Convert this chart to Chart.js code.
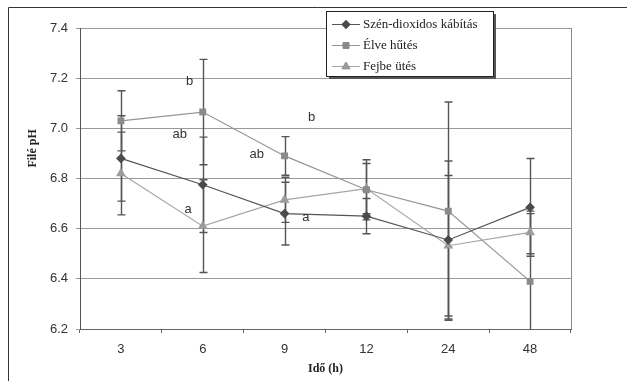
<!DOCTYPE html>
<html>
<head>
<meta charset="utf-8">
<script src="https://cdn.jsdelivr.net/npm/chart.js@4/dist/chart.umd.min.js"></script>
<style>
  html, body { margin: 0; padding: 0; background: #ffffff; }
  #wrap { width: 627px; height: 381px; position: relative; }
</style>
</head>
<body>
<div id="wrap"><canvas id="c" width="627" height="381"></canvas></div>
<script>
// Sampling times (h)
const hours = ['3', '6', '9', '12', '24', '48'];

// Fillet pH means and their error bar half-widths
const szenDioxidos = [6.88, 6.775, 6.66, 6.65, 6.555, 6.685];
const szenDioxidosErr = [0.17, 0.19, 0.125, 0.07, 0.315, 0.195];

const elveHutes = [7.03, 7.065, 6.89, 6.755, 6.67, 6.39];
const elveHutesErr = [0.12, 0.21, 0.077, 0.12, 0.435, 0.27];

const fejbeUtes = [6.82, 6.61, 6.715, 6.76, 6.532, 6.585];
const fejbeUtesErr = [0.165, 0.185, 0.09, 0.1, 0.28, 0.085];

// Y axis range and tick step
const yMin = 6.2, yMax = 7.4, yStep = 0.2;

// Significance letters, placed in data units (category index, pH)
const sigLetters = ['b', 'ab', 'a', 'ab', 'b', 'a'];
const sigAt = [[0.84, 7.186], [0.72, 6.974], [0.82, 6.675], [1.66, 6.894], [2.33, 7.042], [2.26, 6.643]];

const errorSets = [szenDioxidosErr, elveHutesErr, fejbeUtesErr];

const errorBars = {
  id: 'errorBars',
  beforeDatasetsDraw(chart) {
    const { ctx, chartArea, scales: { x, y } } = chart;
    ctx.save();
    ctx.beginPath();
    ctx.rect(chartArea.left, chartArea.top, chartArea.right - chartArea.left, chartArea.bottom - chartArea.top + 1);
    ctx.clip();
    ctx.strokeStyle = '#555555';
    ctx.lineWidth = 1.4;
    chart.data.datasets.forEach((ds, di) => {
      const errs = errorSets[di];
      ds.data.forEach((v, i) => {
        const px = Math.round(x.getPixelForValue(i)) + 0.5;
        const top = y.getPixelForValue(v + errs[i]);
        const bot = y.getPixelForValue(v - errs[i]);
        ctx.beginPath();
        ctx.moveTo(px, top); ctx.lineTo(px, bot);
        ctx.moveTo(px - 4, top); ctx.lineTo(px + 4, top);
        ctx.moveTo(px - 4, bot); ctx.lineTo(px + 4, bot);
        ctx.stroke();
      });
    });
    ctx.restore();
  }
};

const decorations = {
  id: 'decorations',
  afterDraw(chart) {
    const { ctx, chartArea, scales: { x, y } } = chart;
    ctx.save();
    // outer frame
    ctx.strokeStyle = '#333333';
    ctx.lineWidth = 1;
    ctx.beginPath();
    ctx.moveTo(8.5, 381); ctx.lineTo(8.5, 7.5); ctx.lineTo(627, 7.5);
    ctx.stroke();
    // plot area right border
    ctx.strokeStyle = '#888888';
    ctx.beginPath();
    ctx.moveTo(Math.round(chartArea.right) + 0.5, chartArea.top);
    ctx.lineTo(Math.round(chartArea.right) + 0.5, chartArea.bottom);
    ctx.stroke();

    // significance letters
    ctx.fillStyle = '#333333';
    ctx.font = '13px "Liberation Sans", Arial, sans-serif';
    ctx.textAlign = 'center';
    ctx.textBaseline = 'middle';
    sigLetters.forEach((t, i) => {
      ctx.fillText(t, x.getPixelForValue(sigAt[i][0]), y.getPixelForValue(sigAt[i][1]));
    });

    // axis titles
    ctx.fillStyle = '#222222';
    ctx.font = 'bold 12px "Liberation Serif", "Times New Roman", serif';
    ctx.fillText('Idő (h)', (chartArea.left + chartArea.right) / 2, 369);
    ctx.save();
    ctx.translate(33, y.getPixelForValue(6.92));
    ctx.rotate(-Math.PI / 2);
    ctx.fillText('Filé pH', 0, 0);
    ctx.restore();

    // legend box with shadow
    const bx = 326, by = 11, bw = 167, bh = 65;
    ctx.fillStyle = '#555555';
    ctx.fillRect(bx + 3, by + 3, bw, bh);
    ctx.fillStyle = '#ffffff';
    ctx.fillRect(bx, by, bw, bh);
    ctx.strokeStyle = '#222222';
    ctx.lineWidth = 1;
    ctx.strokeRect(bx + 0.5, by + 0.5, bw, bh);
    const rows = [24, 45, 66];
    ctx.font = '13px "Liberation Serif", "Times New Roman", serif';
    ctx.textAlign = 'left';
    chart.data.datasets.forEach((ds, di) => {
      const ry = rows[di] + 0.5;
      ctx.strokeStyle = ds.borderColor;
      ctx.lineWidth = 1;
      ctx.beginPath();
      ctx.moveTo(332, ry); ctx.lineTo(360, ry);
      ctx.stroke();
      Chart.helpers.drawPoint(ctx, {
        pointStyle: ds.pointStyle, radius: ds.pointRadius, rotation: 0, borderWidth: 1
      }, 346, ry);
      ctx.fillStyle = ds.pointBackgroundColor;
      ctx.strokeStyle = ds.pointBorderColor;
      ctx.beginPath();
      Chart.helpers.drawPoint(ctx, {
        pointStyle: ds.pointStyle, radius: ds.pointRadius, rotation: 0, borderWidth: 1
      }, 346, ry);
      ctx.fillStyle = '#222222';
      ctx.fillText(ds.label, 363, ry);
    });
    ctx.restore();
  }
};

new Chart(document.getElementById('c'), {
  type: 'line',
  data: {
    labels: hours,
    datasets: [
      {
        label: 'Szén-dioxidos kábítás',
        data: szenDioxidos,
        borderColor: '#555555',
        borderWidth: 1.2,
        pointStyle: 'rectRot',
        pointRadius: 4,
        pointBackgroundColor: '#4a4a4a',
        pointBorderColor: '#4a4a4a',
        tension: 0
      },
      {
        label: 'Élve hűtés',
        data: elveHutes,
        borderColor: '#959595',
        borderWidth: 1.2,
        pointStyle: 'rect',
        pointRadius: 4,
        pointBackgroundColor: '#8a8a8a',
        pointBorderColor: '#8a8a8a',
        tension: 0
      },
      {
        label: 'Fejbe ütés',
        data: fejbeUtes,
        borderColor: '#a5a5a5',
        borderWidth: 1.2,
        pointStyle: 'triangle',
        pointRadius: 4.5,
        pointBackgroundColor: '#9c9c9c',
        pointBorderColor: '#9c9c9c',
        tension: 0
      }
    ]
  },
  options: {
    responsive: false,
    animation: false,
    devicePixelRatio: 1,
    layout: { padding: { left: 0, top: 28, right: 56, bottom: 0 } },
    plugins: { legend: { display: false }, tooltip: { enabled: false } },
    scales: {
      x: {
        offset: true,
        afterFit(s) { s.height = 52; },
        grid: { offset: true, drawOnChartArea: false, drawTicks: true, tickLength: 4, color: '#666666' },
        border: { display: true, color: '#666666' },
        ticks: { color: '#333333', padding: 9, font: { family: '"Liberation Sans", Arial, sans-serif', size: 13 } }
      },
      y: {
        min: yMin,
        max: yMax,
        afterFit(s) { s.width = 80; },
        grid: { color: '#999999', drawTicks: true, tickLength: 4 },
        border: { display: true, color: '#555555' },
        ticks: {
          stepSize: yStep,
          color: '#333333',
          padding: 8,
          font: { family: '"Liberation Sans", Arial, sans-serif', size: 13 },
          callback: v => Number(v).toFixed(1)
        }
      }
    }
  },
  plugins: [errorBars, decorations]
});
</script>
</body>
</html>
